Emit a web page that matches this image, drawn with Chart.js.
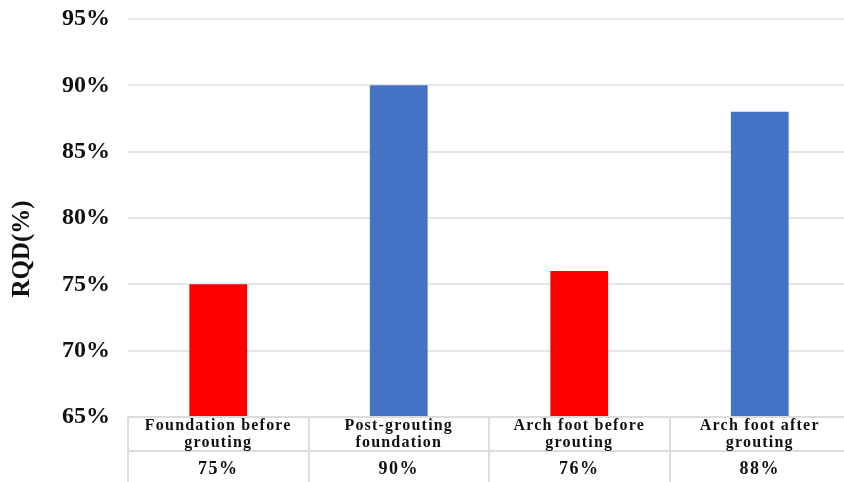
<!DOCTYPE html>
<html lang="en">
<head>
    <meta charset="UTF-8">
    <title>RQD before and after grouting</title>
    <script src="https://cdn.jsdelivr.net/npm/chart.js"></script>
    <style>
        body {
            margin: 0;
            background: #ffffff;
            overflow: hidden;
        }

        .chart-box {
            position: relative;
            width: 852px;
            height: 482px;
        }
    </style>
</head>
<body>

    <div class="chart-box">
        <canvas id="rqdChart"></canvas>
    </div>

    <script>
        // Data
        const categories = [
            ['Foundation before', 'grouting'],
            ['Post-grouting', 'foundation'],
            ['Arch foot before', 'grouting'],
            ['Arch foot after', 'grouting']
        ];
        const rqdValues = [75, 90, 76, 88];
        const barColors = ['#FF0000', '#4472C4', '#FF0000', '#4472C4'];
        const yTicks = { min: 65, max: 95, step: 5 };
        const axisTitle = 'RQD(%)';

        const gridColor = '#e6e6e6';
        const serif = '"Liberation Serif", "Times New Roman", serif';

        // Draws the data table under the bars, using the x scale for column edges,
        // and the y axis title centred on the whole figure height
        const dataTable = {
            id: 'dataTable',
            afterDraw(chart) {
                const ctx = chart.ctx;
                const xs = chart.scales.x;
                const area = chart.chartArea;
                const top = area.bottom;
                const mid = top + 34;
                const bottom = chart.height;
                const half = (xs.getPixelForValue(1) - xs.getPixelForValue(0)) / 2;

                ctx.save();
                ctx.strokeStyle = '#dcdcdc';
                ctx.lineWidth = 2;

                // horizontal lines
                ctx.beginPath();
                ctx.moveTo(area.left, top);
                ctx.lineTo(area.right, top);
                ctx.moveTo(area.left, mid);
                ctx.lineTo(area.right, mid);
                ctx.stroke();

                // vertical lines
                ctx.beginPath();
                for (let i = 0; i <= categories.length; i++) {
                    const x = Math.round(xs.getPixelForValue(i) - half);
                    ctx.moveTo(x, top);
                    ctx.lineTo(x, bottom);
                }
                ctx.stroke();

                ctx.fillStyle = '#111111';
                ctx.textAlign = 'center';
                ctx.textBaseline = 'middle';

                categories.forEach((lines, i) => {
                    const x = xs.getPixelForValue(i);
                    ctx.font = 'bold 16px ' + serif;
                    ctx.letterSpacing = '1.2px';
                    lines.forEach((line, j) => {
                        ctx.fillText(line, x, top + 9 + j * 17);
                    });
                    ctx.font = 'bold 18px ' + serif;
                    ctx.letterSpacing = '1.5px';
                    ctx.fillText(rqdValues[i] + '%', x, mid + 18);
                });

                // y axis title
                ctx.letterSpacing = '0px';
                ctx.font = 'bold 25px ' + serif;
                ctx.translate(23, 249);
                ctx.rotate(-Math.PI / 2);
                ctx.fillText(axisTitle, 0, 0);
                ctx.restore();
            }
        };

        const ctx = document.getElementById('rqdChart').getContext('2d');
        const rqdChart = new Chart(ctx, {
            type: 'bar',
            data: {
                labels: categories,
                datasets: [{
                    label: 'RQD',
                    data: rqdValues,
                    backgroundColor: barColors,
                    categoryPercentage: 1,
                    barPercentage: 0.32
                }]
            },
            options: {
                responsive: true,
                maintainAspectRatio: false,
                animation: false,
                layout: {
                    padding: { top: 19, right: 2, left: 0, bottom: 0 }
                },
                plugins: {
                    legend: { display: false },
                    tooltip: { enabled: false }
                },
                scales: {
                    x: {
                        grid: { display: false },
                        border: { display: false },
                        ticks: { display: false },
                        afterFit(scale) {
                            scale.height = 65;
                        }
                    },
                    y: {
                        min: yTicks.min,
                        max: yTicks.max,
                        border: { display: false },
                        grid: {
                            color: gridColor,
                            lineWidth: 2,
                            drawTicks: false
                        },
                        ticks: {
                            stepSize: yTicks.step,
                            padding: 18,
                            color: '#111111',
                            font: { family: serif, size: 24, weight: 'bold' },
                            callback: v => v + '%'
                        },
                        afterFit(scale) {
                            scale.width = 128;
                            scale.paddingTop = 0;
                            scale.paddingBottom = 0;
                        }
                    }
                }
            },
            plugins: [dataTable]
        });
    </script>
</body>
</html>
